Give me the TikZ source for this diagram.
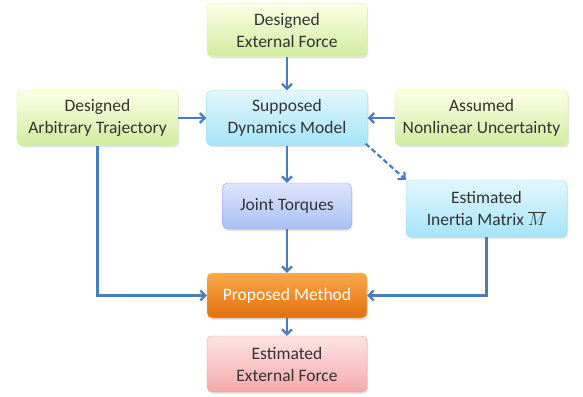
\documentclass[tikz,border=0pt]{standalone}
\usepackage{fontspec}
\setmainfont{Carlito}
\usetikzlibrary{arrows.meta,shadows}
\definecolor{arr}{HTML}{4A7EBB}
\definecolor{txt}{HTML}{333333}
\tikzset{
  box/.style={rounded corners=5pt, draw=#1!45!white, line width=0.3pt, align=center, text=txt,
    font=\fontsize{17.5}{22}\selectfont, inner sep=0pt,
    drop shadow={shadow xshift=1.2pt, shadow yshift=-1.8pt, opacity=0.22}},
  greenbox/.style={box=green!40!yellow, top color=green!8!yellow!10, bottom color={rgb,255:red,208;green,236;blue,160}},
  cyanbox/.style={box=cyan, top color={rgb,255:red,226;green,247;blue,253}, bottom color={rgb,255:red,165;green,228;blue,248}},
  lavbox/.style={box=blue, top color={rgb,255:red,222;green,230;blue,252}, bottom color={rgb,255:red,168;green,192;blue,244}},
  orangebox/.style={box=orange, top color={rgb,255:red,250;green,168;blue,72}, bottom color={rgb,255:red,226;green,112;blue,14}, text=white},
  pinkbox/.style={box=red, top color={rgb,255:red,253;green,228;blue,228}, bottom color={rgb,255:red,245;green,170;blue,170}},
  conn/.style={draw=arr, line width=2.2pt, -{Straight Barb[length=5pt,width=10pt,line width=2.2pt]}},
}
\begin{document}
\begin{tikzpicture}[x=1pt,y=-1pt]
\useasboundingbox (0,0) rectangle (583,396);
\node[greenbox, minimum width=160pt, minimum height=53pt] (ef) at (287,30) {Designed\\External Force};
\node[greenbox, minimum width=161pt, minimum height=55pt] (traj) at (97.5,118) {Designed\\Arbitrary Trajectory};
\node[cyanbox, minimum width=161pt, minimum height=55pt] (dyn) at (287,118) {Supposed\\Dynamics Model};
\node[greenbox, minimum width=173pt, minimum height=55pt] (unc) at (481.5,118) {Assumed\\Nonlinear Uncertainty};
\node[lavbox, minimum width=129pt, minimum height=46pt] (jt) at (287,206) {Joint Torques};
\node[cyanbox, minimum width=161pt, minimum height=57pt] (im) at (486.5,208.5) {Estimated\\Inertia Matrix $\overline{M}$};
\node[orangebox, minimum width=160pt, minimum height=45pt] (pm) at (287,295.5) {Proposed Method};
\node[pinkbox, minimum width=160pt, minimum height=56pt] (eef) at (287,364) {Estimated\\External Force};
\draw[conn] (ef) -- (dyn);
\draw[conn] (traj) -- (dyn);
\draw[conn] (unc) -- (dyn);
\draw[conn] (dyn) -- (jt);
\draw[conn] (jt) -- (pm);
\draw[conn] (pm) -- (eef);
\draw[conn] (traj.south) |- (pm.west);
\draw[conn] (im.south) |- (pm.east);
\draw[conn, dashed, dash pattern=on 5pt off 3pt] (dyn.south east) ++(-2pt,2pt) coordinate (ds) -- (im.north west);
\end{tikzpicture}
\end{document}
